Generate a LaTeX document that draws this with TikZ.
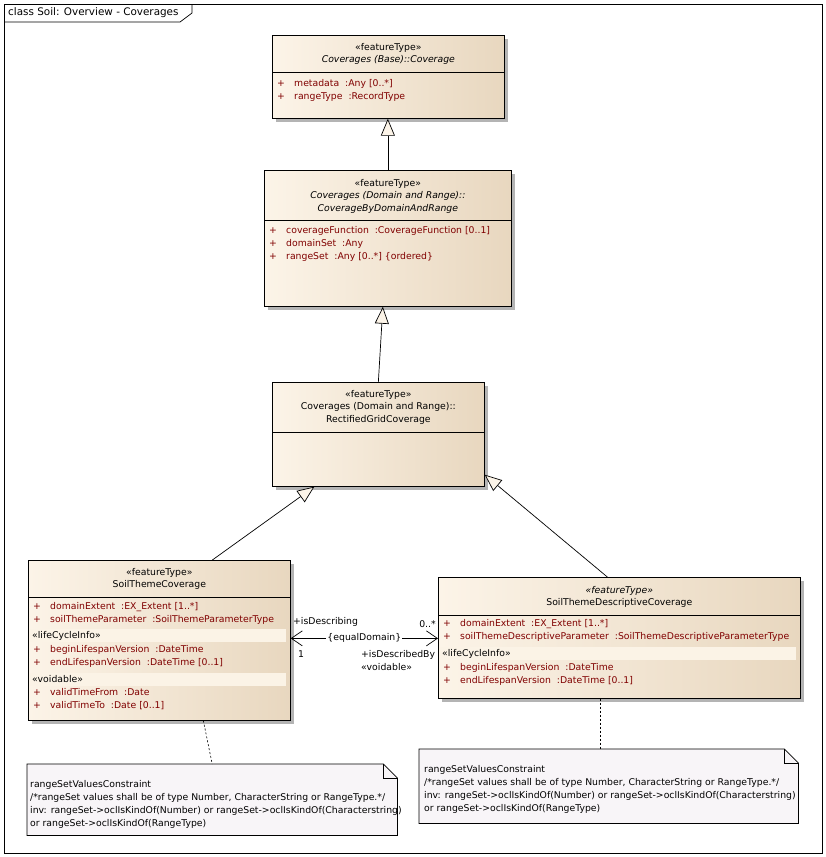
\documentclass[tikz,border=0pt]{standalone}
\usepackage{fontspec}
\setmainfont{DejaVu Sans}
\usetikzlibrary{arrows.meta,shadows,positioning}

\definecolor{clsleft}{HTML}{FCF4E8}
\definecolor{clsright}{HTML}{E8D7BF}
\definecolor{bandcol}{HTML}{FBF3E6}
\definecolor{attrcol}{HTML}{800000}
\definecolor{shadowcol}{HTML}{B4B4B4}
\definecolor{notecol}{HTML}{F8F5F8}

\newcommand{\umlfont}{\fontsize{9.3}{12.5}\selectfont}
\newcommand{\attfont}{\fontsize{9.3}{13}\selectfont}

\tikzset{
  classbox/.style={draw, rectangle, anchor=north west, inner sep=0pt, line width=0.7pt,
    left color=clsleft, right color=clsright,
    drop shadow={shadow xshift=4pt, shadow yshift=-4pt, fill=shadowcol, opacity=1}},
  hdr/.style={anchor=north, align=center, inner sep=0pt, font=\umlfont},
  attr/.style={anchor=north west, align=left, inner sep=0pt, text=attrcol, font=\attfont},
  band/.style={anchor=north west, inner sep=0pt, fill=bandcol, minimum height=13pt},
  bandtext/.style={anchor=mid west, inner sep=0pt, font=\attfont},
  notebox/.style={anchor=north west, inner sep=0pt},
  notetext/.style={anchor=north west, align=left, inner sep=0pt, font=\attfont},
  gen/.style={line width=0.7pt, -{Triangle[length=17pt,width=14pt,fill=clsleft]}},
  lbl/.style={inner sep=0pt, font=\umlfont}
}

\begin{document}
\begin{tikzpicture}[x=1pt, y=-1pt]
  \useasboundingbox (0,0) rectangle (826,857);

  % diagram frame
  \draw[line width=0.7pt] (4,4) rectangle (822,853);
  \draw[line width=0.7pt] (4,22) -- (180,22) -- (192,13) -- (192,4);
  \node (title) [lbl, anchor=mid west, font=\fontsize{10.4}{12}\selectfont] at (8,13) {class Soil: Overview - Coverages};

  % classes
  \node (cov) [classbox, minimum width=232pt, minimum height=83pt] at (272,35) {};
  \node (covname) [hdr] at ([yshift=-8pt]cov.north) {«featureType»\\\textit{Coverages (Base)::Coverage}};
  \draw[line width=0.7pt] ([yshift=-37pt]cov.north west) -- ([yshift=-37pt]cov.north east);
  \node (covattr) [attr] at ([xshift=5pt,yshift=-44pt]cov.north west)
    {\makebox[17pt][l]{+}metadata\ \ :Any [0..*]\\\makebox[17pt][l]{+}rangeType\ \ :RecordType};

  \node (cbdr) [classbox, minimum width=247pt, minimum height=136pt] at (264,170) {};
  \node (cbdrname) [hdr] at ([yshift=-9pt]cbdr.north)
    {«featureType»\\\textit{Coverages (Domain and Range)::}\\\textit{CoverageByDomainAndRange}};
  \draw[line width=0.7pt] ([yshift=-50pt]cbdr.north west) -- ([yshift=-50pt]cbdr.north east);
  \node (cbdrattr) [attr] at ([xshift=5pt,yshift=-56pt]cbdr.north west)
    {\makebox[17pt][l]{+}coverageFunction\ \ :CoverageFunction [0..1]\\
     \makebox[17pt][l]{+}domainSet\ \ :Any\\
     \makebox[17pt][l]{+}rangeSet\ \ :Any [0..*] \{ordered\}};

  \node (rgc) [classbox, minimum width=212pt, minimum height=104pt] at (272,382) {};
  \node (rgcname) [hdr] at ([yshift=-8pt]rgc.north)
    {«featureType»\\Coverages (Domain and Range)::\\RectifiedGridCoverage};
  \draw[line width=0.7pt] ([yshift=-50pt]rgc.north west) -- ([yshift=-50pt]rgc.north east);

  \node (stc) [classbox, minimum width=262pt, minimum height=160pt] at (28,560) {};
  \node (stcname) [hdr] at ([yshift=-8pt]stc.north) {«featureType»\\SoilThemeCoverage};
  \draw[line width=0.7pt] ([yshift=-37pt]stc.north west) -- ([yshift=-37pt]stc.north east);
  \node (stcattr) [attr] at ([xshift=5pt,yshift=-42pt]stc.north west)
    {\makebox[17pt][l]{+}domainExtent\ \ :EX\_Extent [1..*]\\
     \makebox[17pt][l]{+}soilThemeParameter\ \ :SoilThemeParameterType};
  \node (stcband1) [band, minimum width=256pt] at ([xshift=2pt,yshift=-69pt]stc.north west) {};
  \node (stclife) [bandtext] at ([xshift=2pt]stcband1.west) {«lifeCycleInfo»};
  \node (stcattr2) [attr] at ([xshift=5pt,yshift=-85pt]stc.north west)
    {\makebox[17pt][l]{+}beginLifespanVersion\ \ :DateTime\\
     \makebox[17pt][l]{+}endLifespanVersion\ \ :DateTime [0..1]};
  \node (stcband2) [band, minimum width=256pt] at ([xshift=2pt,yshift=-113pt]stc.north west) {};
  \node (stcvoid) [bandtext] at ([xshift=2pt]stcband2.west) {«voidable»};
  \node (stcattr3) [attr] at ([xshift=5pt,yshift=-128pt]stc.north west)
    {\makebox[17pt][l]{+}validTimeFrom\ \ :Date\\
     \makebox[17pt][l]{+}validTimeTo\ \ :Date [0..1]};

  \node (stdc) [classbox, minimum width=362pt, minimum height=121pt] at (438,577) {};
  \node (stdcname) [hdr] at ([yshift=-9pt]stdc.north) {\textit{«featureType»}\\SoilThemeDescriptiveCoverage};
  \draw[line width=0.7pt] ([yshift=-38pt]stdc.north west) -- ([yshift=-38pt]stdc.north east);
  \node (stdcattr) [attr] at ([xshift=5pt,yshift=-42pt]stdc.north west)
    {\makebox[17pt][l]{+}domainExtent\ \ :EX\_Extent [1..*]\\
     \makebox[17pt][l]{+}soilThemeDescriptiveParameter\ \ :SoilThemeDescriptiveParameterType};
  \node (stdcband) [band, minimum width=356pt] at ([xshift=2pt,yshift=-70pt]stdc.north west) {};
  \node (stdclife) [bandtext] at ([xshift=2pt]stdcband.west) {«lifeCycleInfo»};
  \node (stdcattr2) [attr] at ([xshift=5pt,yshift=-86pt]stdc.north west)
    {\makebox[17pt][l]{+}beginLifespanVersion\ \ :DateTime\\
     \makebox[17pt][l]{+}endLifespanVersion\ \ :DateTime [0..1]};

  % constraint notes
  \node (stnote) [notebox, minimum width=370pt, minimum height=71pt] at (27,764) {};
  \draw[line width=0.7pt, fill=notecol] (stnote.north west) -- ([xshift=-14pt]stnote.north east)
    -- ([yshift=-14pt]stnote.north east) -- (stnote.south east) -- (stnote.south west) -- cycle;
  \draw[line width=0.7pt] ([xshift=-14pt]stnote.north east) -- ++(0,14) -- ++(14,0);
  \node (stnotetext) [notetext] at ([xshift=3pt,yshift=-16pt]stnote.north west)
    {rangeSetValuesConstraint\\
     /*rangeSet values shall be of type Number, CharacterString or RangeType.*/\\
     inv: rangeSet->oclIsKindOf(Number) or rangeSet->oclIsKindOf(Characterstring)\\
     or rangeSet->oclIsKindOf(RangeType)};

  \node (stdcnote) [notebox, minimum width=379pt, minimum height=74pt] at (419,749) {};
  \draw[line width=0.7pt, fill=notecol] (stdcnote.north west) -- ([xshift=-14pt]stdcnote.north east)
    -- ([yshift=-14pt]stdcnote.north east) -- (stdcnote.south east) -- (stdcnote.south west) -- cycle;
  \draw[line width=0.7pt] ([xshift=-14pt]stdcnote.north east) -- ++(0,14) -- ++(14,0);
  \node (stdcnotetext) [notetext] at ([xshift=5pt,yshift=-16pt]stdcnote.north west)
    {rangeSetValuesConstraint\\
     /*rangeSet values shall be of type Number, CharacterString or RangeType.*/\\
     inv: rangeSet->oclIsKindOf(Number) or rangeSet->oclIsKindOf(Characterstring)\\
     or rangeSet->oclIsKindOf(RangeType)};

  % generalisations
  \draw[gen] (cbdr.north) -- (cbdr.north |- cov.south);
  \draw[gen] (rgc.north) -- ([xshift=-5pt]cbdr.south);
  \draw[gen] ([xshift=53pt]stc.north) -- ([xshift=-64pt]rgc.south);
  \draw[gen] ([xshift=-12pt]stdc.north) -- ([yshift=12pt]rgc.south east);

  % association
  \draw[line width=0.7pt, {Straight Barb[length=11pt,width=15pt]}-{Straight Barb[length=11pt,width=15pt]}]
    ([yshift=2pt]stc.east) -- ([yshift=2pt]stc.east -| stdc.west)
    node (cons) [lbl, midway, fill=white, inner sep=1pt] {\{equalDomain\}};
  \node (srcrole) [lbl, anchor=mid west] at (293,622) {+isDescribing};
  \node (srcmult) [lbl, anchor=mid west] at (298,655) {1};
  \node (tgtmult) [lbl, anchor=mid east] at (436,625) {0..*};
  \node (tgtrole) [lbl, anchor=mid west] at (361,655) {+isDescribedBy};
  \node (tgtstereo) [lbl, anchor=mid west] at (361,668) {«voidable»};

  % note links
  \draw[line width=0.6pt, dash pattern=on 2pt off 2pt] ([xshift=44pt]stc.south) -- (stnote.north);
  \draw[line width=0.6pt, dash pattern=on 2pt off 2pt] ([xshift=-19pt]stdc.south) -- ([xshift=-19pt]stdc.south |- stdcnote.north);
\end{tikzpicture}
\end{document}
